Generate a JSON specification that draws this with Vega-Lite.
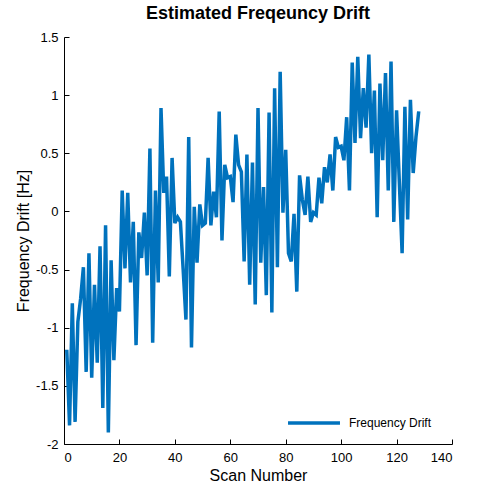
{
  "$schema": "https://vega.github.io/schema/vega-lite/v6.json",
  "width": 388,
  "height": 407,
  "autosize": {"type": "none"},
  "padding": {"left": 64, "top": 37, "right": 48, "bottom": 56},
  "background": "white",
  "title": {
    "text": "Estimated Freqeuncy Drift",
    "font": "Liberation Sans",
    "fontSize": 18,
    "fontWeight": "bold",
    "color": "black",
    "anchor": "middle",
    "offset": 8
  },
  "data": {
    "values": [
      {"scan": 1, "drift": -1.19}, {"scan": 2, "drift": -1.84}, {"scan": 3, "drift": -0.79}, {"scan": 4, "drift": -1.81},
      {"scan": 5, "drift": -0.95}, {"scan": 6, "drift": -0.75}, {"scan": 7, "drift": -0.48}, {"scan": 8, "drift": -1.38},
      {"scan": 9, "drift": -0.36}, {"scan": 10, "drift": -1.43}, {"scan": 11, "drift": -0.63}, {"scan": 12, "drift": -1.3},
      {"scan": 13, "drift": -0.3}, {"scan": 14, "drift": -1.69}, {"scan": 15, "drift": -0.12}, {"scan": 16, "drift": -1.9},
      {"scan": 17, "drift": -0.42}, {"scan": 18, "drift": -1.28}, {"scan": 19, "drift": -0.66}, {"scan": 20, "drift": -0.86},
      {"scan": 21, "drift": 0.18}, {"scan": 22, "drift": -0.49}, {"scan": 23, "drift": 0.16}, {"scan": 24, "drift": -0.61},
      {"scan": 25, "drift": -0.09}, {"scan": 26, "drift": -1.15}, {"scan": 27, "drift": -0.18}, {"scan": 28, "drift": -0.4},
      {"scan": 29, "drift": -0.01}, {"scan": 30, "drift": -0.55}, {"scan": 31, "drift": 0.54}, {"scan": 32, "drift": -1.13},
      {"scan": 33, "drift": 0.18}, {"scan": 34, "drift": -0.61}, {"scan": 35, "drift": 0.89}, {"scan": 36, "drift": 0.16},
      {"scan": 37, "drift": 0.3}, {"scan": 38, "drift": -0.56}, {"scan": 39, "drift": 0.46}, {"scan": 40, "drift": -0.1},
      {"scan": 41, "drift": -0.05}, {"scan": 42, "drift": -0.09}, {"scan": 43, "drift": -0.5}, {"scan": 44, "drift": -0.93},
      {"scan": 45, "drift": 0.64}, {"scan": 46, "drift": -1.17}, {"scan": 47, "drift": 0.04}, {"scan": 48, "drift": -0.44},
      {"scan": 49, "drift": 0.06}, {"scan": 50, "drift": -0.12}, {"scan": 51, "drift": -0.1}, {"scan": 52, "drift": 0.46},
      {"scan": 53, "drift": -0.12}, {"scan": 54, "drift": 0.17}, {"scan": 55, "drift": -0.05}, {"scan": 56, "drift": 0.86},
      {"scan": 57, "drift": -0.25}, {"scan": 58, "drift": 0.4}, {"scan": 59, "drift": 0.29}, {"scan": 60, "drift": 0.3},
      {"scan": 61, "drift": 0.08}, {"scan": 62, "drift": 0.66}, {"scan": 63, "drift": 0.4}, {"scan": 64, "drift": 0.34},
      {"scan": 65, "drift": -0.43}, {"scan": 66, "drift": 0.49}, {"scan": 67, "drift": -0.63}, {"scan": 68, "drift": 0.42},
      {"scan": 69, "drift": -0.8}, {"scan": 70, "drift": 0.89}, {"scan": 71, "drift": -0.44}, {"scan": 72, "drift": 0.21},
      {"scan": 73, "drift": -0.72}, {"scan": 74, "drift": 0.85}, {"scan": 75, "drift": -0.87}, {"scan": 76, "drift": 1.06},
      {"scan": 77, "drift": -0.48}, {"scan": 78, "drift": 1.2}, {"scan": 79, "drift": -0.01}, {"scan": 80, "drift": 0.53},
      {"scan": 81, "drift": -0.36}, {"scan": 82, "drift": -0.43}, {"scan": 83, "drift": -0.02}, {"scan": 84, "drift": -0.69},
      {"scan": 85, "drift": 0.31}, {"scan": 86, "drift": 0.1}, {"scan": 87, "drift": -0.03}, {"scan": 88, "drift": 0.3},
      {"scan": 89, "drift": -0.09}, {"scan": 90, "drift": -0.01}, {"scan": 91, "drift": -0.03}, {"scan": 92, "drift": 0.29},
      {"scan": 93, "drift": 0.07}, {"scan": 94, "drift": 0.38}, {"scan": 95, "drift": 0.25}, {"scan": 96, "drift": 0.49},
      {"scan": 97, "drift": 0.18}, {"scan": 98, "drift": 0.64}, {"scan": 99, "drift": 0.55}, {"scan": 100, "drift": 0.56},
      {"scan": 101, "drift": 0.44}, {"scan": 102, "drift": 0.81}, {"scan": 103, "drift": 0.18}, {"scan": 104, "drift": 1.28},
      {"scan": 105, "drift": 0.59}, {"scan": 106, "drift": 1.33}, {"scan": 107, "drift": 0.63}, {"scan": 108, "drift": 1.06},
      {"scan": 109, "drift": 0.72}, {"scan": 110, "drift": 1.35}, {"scan": 111, "drift": 0.5}, {"scan": 112, "drift": 1.04},
      {"scan": 113, "drift": -0.05}, {"scan": 114, "drift": 1.1}, {"scan": 115, "drift": 0.44}, {"scan": 116, "drift": 1.19},
      {"scan": 117, "drift": 0.18}, {"scan": 118, "drift": 1.29}, {"scan": 119, "drift": -0.09}, {"scan": 120, "drift": 0.87},
      {"scan": 121, "drift": 0.25}, {"scan": 122, "drift": -0.36}, {"scan": 123, "drift": 0.9}, {"scan": 124, "drift": -0.07},
      {"scan": 125, "drift": 0.96}, {"scan": 126, "drift": 0.33}, {"scan": 127, "drift": 0.64}, {"scan": 128, "drift": 0.86}
    ]
  },
  "mark": {"type": "line", "strokeWidth": 3.5, "clip": true},
  "encoding": {
    "x": {
      "field": "scan",
      "type": "quantitative",
      "title": "Scan Number",
      "scale": {"domain": [0, 140], "nice": false},
      "axis": {
        "values": [0, 20, 40, 60, 80, 100, 120, 140],
        "labelPadding": 12,
        "titlePadding": 3
      }
    },
    "y": {
      "field": "drift",
      "type": "quantitative",
      "title": "Frequency Drift [Hz]",
      "scale": {"domain": [-2, 1.5], "nice": false, "zero": false},
      "axis": {
        "values": [-2, -1.5, -1, -0.5, 0, 0.5, 1, 1.5],
        "labelExpr": "toString(datum.value)",
        "labelPadding": 11,
        "titlePadding": 4
      }
    },
    "color": {
      "datum": "Frequency Drift",
      "type": "nominal",
      "scale": {"range": ["#0072BD"]},
      "legend": {
        "title": null,
        "orient": "none",
        "legendX": 222,
        "legendY": 358,
        "symbolType": "stroke",
        "symbolSize": 2700,
        "symbolStrokeWidth": 3.5,
        "labelFont": "Liberation Sans",
        "labelFontSize": 12,
        "labelColor": "black",
        "labelOffset": 7
      }
    }
  },
  "config": {
    "view": {"stroke": null},
    "axis": {
      "grid": false,
      "domainColor": "black",
      "domainWidth": 1,
      "tickColor": "black",
      "tickSize": -5,
      "labelFont": "Liberation Sans",
      "labelFontSize": 13,
      "labelColor": "black",
      "titleFont": "Liberation Sans",
      "titleFontSize": 16,
      "titleFontWeight": "normal",
      "titleColor": "black"
    }
  }
}
